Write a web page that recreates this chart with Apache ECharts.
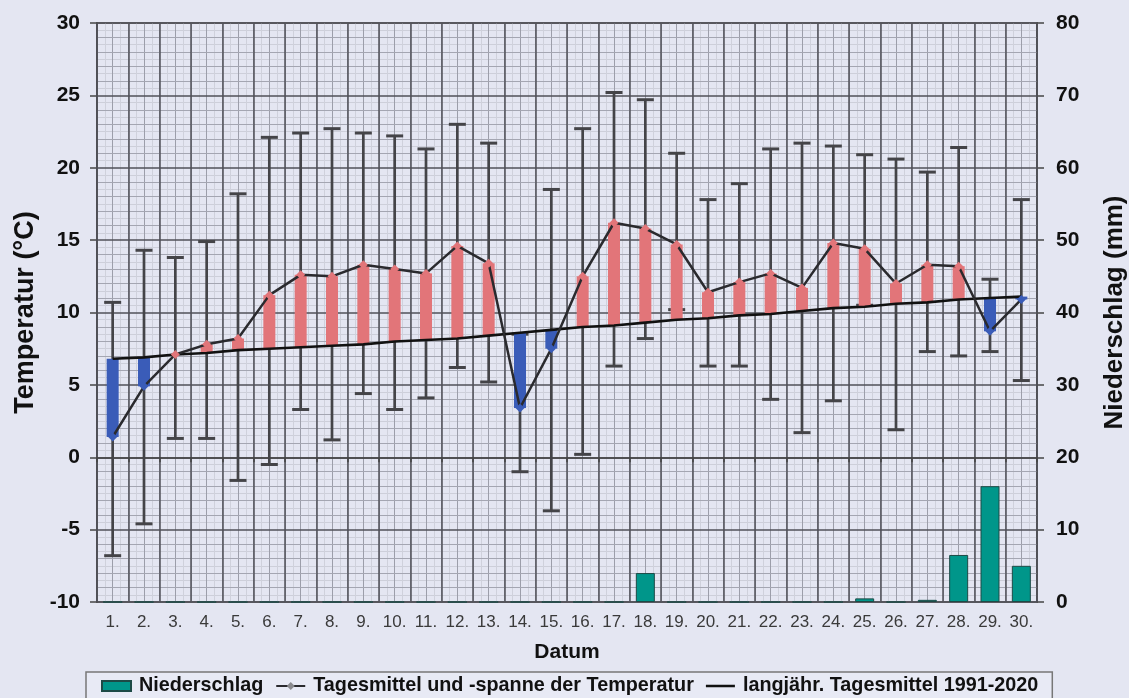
<!DOCTYPE html>
<html>
<head>
<meta charset="utf-8">
<script src="https://cdn.jsdelivr.net/npm/echarts@6/dist/echarts.min.js"></script>
<style>
html,body{margin:0;padding:0;background:#e4e6f2;overflow:hidden;}
#c{width:1129px;height:698px;}
</style>
</head>
<body>
<div id="c"></div>
<script>
const days = ['1.','2.','3.','4.','5.','6.','7.','8.','9.','10.','11.','12.','13.','14.','15.','16.','17.','18.','19.','20.','21.','22.','23.','24.','25.','26.','27.','28.','29.','30.'];
const tMean = [1.4,4.9,7.1,7.8,8.2,11.2,12.6,12.5,13.3,13.0,12.7,14.6,13.4,3.4,7.5,12.5,16.2,15.8,14.7,11.4,12.1,12.7,11.7,14.8,14.4,12.0,13.3,13.2,8.7,10.9];
const tMax = [10.7,14.3,13.8,14.9,18.2,22.1,22.4,22.7,22.4,22.2,21.3,23.0,21.7,8.5,18.5,22.7,25.2,24.7,21.0,17.8,18.9,21.3,21.7,21.5,20.9,20.6,19.7,21.4,12.3,17.8];
const tMin = [-6.8,-4.6,1.3,1.3,-1.6,-0.5,3.3,1.2,4.4,3.3,4.1,6.2,5.2,-1.0,-3.7,0.2,6.3,8.2,10.2,6.3,6.3,4.0,1.7,3.9,10.5,1.9,7.3,7.0,7.3,5.3];
const tLong = [6.8,6.9,7.1,7.2,7.4,7.5,7.6,7.7,7.8,8.0,8.1,8.2,8.4,8.6,8.8,9.0,9.1,9.3,9.5,9.6,9.8,9.9,10.1,10.3,10.4,10.6,10.7,10.9,11.0,11.1];
const precip = [0,0,0,0,0,0,0,0,0,0,0,0,0,0,0,0,0,4.0,0,0,0,0,0,0,0.5,0,0.3,6.5,16.0,5.0];
const tempTicks = [-10,-5,0,5,10,15,20,25,30];
const precTicks = [0,10,20,30,40,50,60,70,80];

const RED = '#e27579', BLUE = '#3a5cb8', TEAL = '#00968a';
const FONT = 'Liberation Sans, Arial, sans-serif';

const chart = echarts.init(document.getElementById('c'), null, {renderer:'canvas'});

const errData = days.map((d,i)=>[i, tMax[i], tMin[i]]);
const diffData = days.map((d,i)=>[i, tMean[i], tLong[i]]);

const solid = (c, w) => ({type: 'solid', color: c, width: w});

const option = {
  backgroundColor: '#e4e6f2',
  animation: false,
  textStyle: {fontFamily: FONT},
  grid: {left: 97, right: 92, top: 23, bottom: 96, show: true, borderColor: '#444', borderWidth: 1.5,
         outerBoundsMode: 'none', containLabel: false},
  legend: {
    left: 86, top: 672,
    backgroundColor: '#e8eaf5', borderColor: '#777', borderWidth: 1.5,
    padding: [4, 14, 12, 15], itemGap: 12, itemWidth: 29, itemHeight: 10,
    textStyle: {fontFamily: FONT, fontSize: 19.8, fontWeight: 'bold', color: '#111', padding: [0, 0, 0, 3]},
    data: [
      {name: 'Niederschlag', icon: 'rect'},
      {name: 'Tagesmittel und -spanne der Temperatur'},
      {name: 'langjähr. Tagesmittel 1991-2020', icon: 'path://M0,0 L30,0 L30,2.6 L0,2.6 Z'}
    ]
  },
  xAxis: [
    {
      type: 'category', data: days, boundaryGap: true, z: 2,
      name: 'Datum', nameLocation: 'middle', nameGap: 40,
      nameTextStyle: {fontFamily: FONT, fontSize: 21, fontWeight: 'bold', color: '#111'},
      axisLine: {show: true, lineStyle: solid('#444', 1.5)},
      axisTick: {show: true, interval: 0, length: 5, lineStyle: solid('#444', 1.5)},
      axisLabel: {interval: 0, fontFamily: FONT, fontSize: 17, color: '#3a3a3a', margin: 12},
      splitLine: {show: true, interval: 0, lineStyle: solid('#505058', 1.5)}
    },
    {
      type: 'value', min: 0, max: 60, interval: 1, show: true, position: 'bottom', z: 0,
      axisLine: {show: false}, axisTick: {show: false}, axisLabel: {show: false},
      splitLine: {show: true, lineStyle: solid('#9c9eaa', 1)},
      minorTick: {show: false, splitNumber: 2},
      minorSplitLine: {show: true, lineStyle: solid('#cfd1dc', 1)}
    }
  ],
  yAxis: [
    {
      type: 'value', min: -10, max: 30, interval: 5, z: 1,
      name: 'Temperatur (°C)', nameLocation: 'middle', nameGap: 55, nameRotate: 90,
      nameTextStyle: {fontFamily: FONT, fontSize: 27, fontWeight: 'bold', color: '#111'},
      axisLine: {show: true, lineStyle: solid('#444', 1.5)},
      axisTick: {show: true, length: 7, lineStyle: solid('#444', 1.5)},
      axisLabel: {fontFamily: FONT, fontSize: 21, fontWeight: 'bold', color: '#111', margin: 17,
        formatter: v => tempTicks.includes(v) ? String(v) : ''},
      splitLine: {show: true, lineStyle: solid('#505058', 1.5)},
      minorTick: {show: false, splitNumber: 5},
      minorSplitLine: {show: true, lineStyle: solid('#a4a6b2', 1)}
    },
    {
      type: 'value', min: 0, max: 80, interval: 10, position: 'right', z: 0,
      name: 'Niederschlag (mm)', nameLocation: 'middle', nameGap: 65, nameRotate: 90,
      nameTextStyle: {fontFamily: FONT, fontSize: 26, fontWeight: 'bold', color: '#111'},
      axisLine: {show: true, lineStyle: solid('#444', 1.5)},
      axisTick: {show: true, length: 7, lineStyle: solid('#444', 1.5)},
      axisLabel: {fontFamily: FONT, fontSize: 21, fontWeight: 'bold', color: '#111', margin: 19,
        formatter: v => precTicks.includes(v) ? String(v) : ''},
      splitLine: {show: false},
      minorTick: {show: false, splitNumber: 10},
      minorSplitLine: {show: true, lineStyle: solid('#cdcfda', 1)}
    }
  ],
  series: [
    {
      name: 'Niederschlag', type: 'bar', xAxisIndex: 0, yAxisIndex: 1, data: precip,
      barWidth: 19, z: 3,
      itemStyle: {color: TEAL, borderColor: '#1d4a46', borderWidth: 1}
    },
    {
      name: 'spanne', type: 'custom', xAxisIndex: 0, yAxisIndex: 0, data: errData, z: 4,
      renderItem: function(params, api) {
        const x = api.value(0);
        const hi = api.coord([x, api.value(1)]);
        const lo = api.coord([x, api.value(2)]);
        const hw = 8.5;
        const st = {stroke: '#444448', lineWidth: 2.7};
        const cap = {stroke: '#444448', lineWidth: 3};
        return {type: 'group', children: [
          {type: 'line', shape: {x1: hi[0], y1: hi[1], x2: lo[0], y2: lo[1]}, style: st},
          {type: 'line', shape: {x1: hi[0]-hw, y1: hi[1], x2: hi[0]+hw, y2: hi[1]}, style: cap},
          {type: 'line', shape: {x1: lo[0]-hw, y1: lo[1], x2: lo[0]+hw, y2: lo[1]}, style: cap}
        ]};
      }
    },
    {
      name: 'diff', type: 'custom', xAxisIndex: 0, yAxisIndex: 0, data: diffData, z: 5,
      renderItem: function(params, api) {
        const x = api.value(0);
        const m = api.value(1), l = api.value(2);
        const a = api.coord([x, m]);
        const b = api.coord([x, l]);
        const w = 12;
        return {type: 'rect', shape: {x: a[0]-w/2, y: Math.min(a[1], b[1]), width: w, height: Math.abs(a[1]-b[1])},
          style: {fill: m >= l ? RED : BLUE}};
      }
    },
    {
      name: 'langjähr. Tagesmittel 1991-2020', type: 'line', xAxisIndex: 0, yAxisIndex: 0,
      data: tLong, symbol: 'none', z: 6, color: '#111',
      lineStyle: {color: '#111', width: 2.6}
    },
    {
      name: 'Tagesmittel und -spanne der Temperatur', type: 'line', xAxisIndex: 0, yAxisIndex: 0,
      data: tMean.map((v,i)=>({value: v, itemStyle: {color: v >= tLong[i] ? RED : BLUE}})),
      symbol: 'diamond', symbolSize: 9, showSymbol: true, z: 7, color: '#8a8a8e',
      itemStyle: {color: '#8a8a8e'},
      lineStyle: {color: '#2a2a2e', width: 2.5}
    }
  ]
};
chart.setOption(option);
</script>
</body>
</html>
